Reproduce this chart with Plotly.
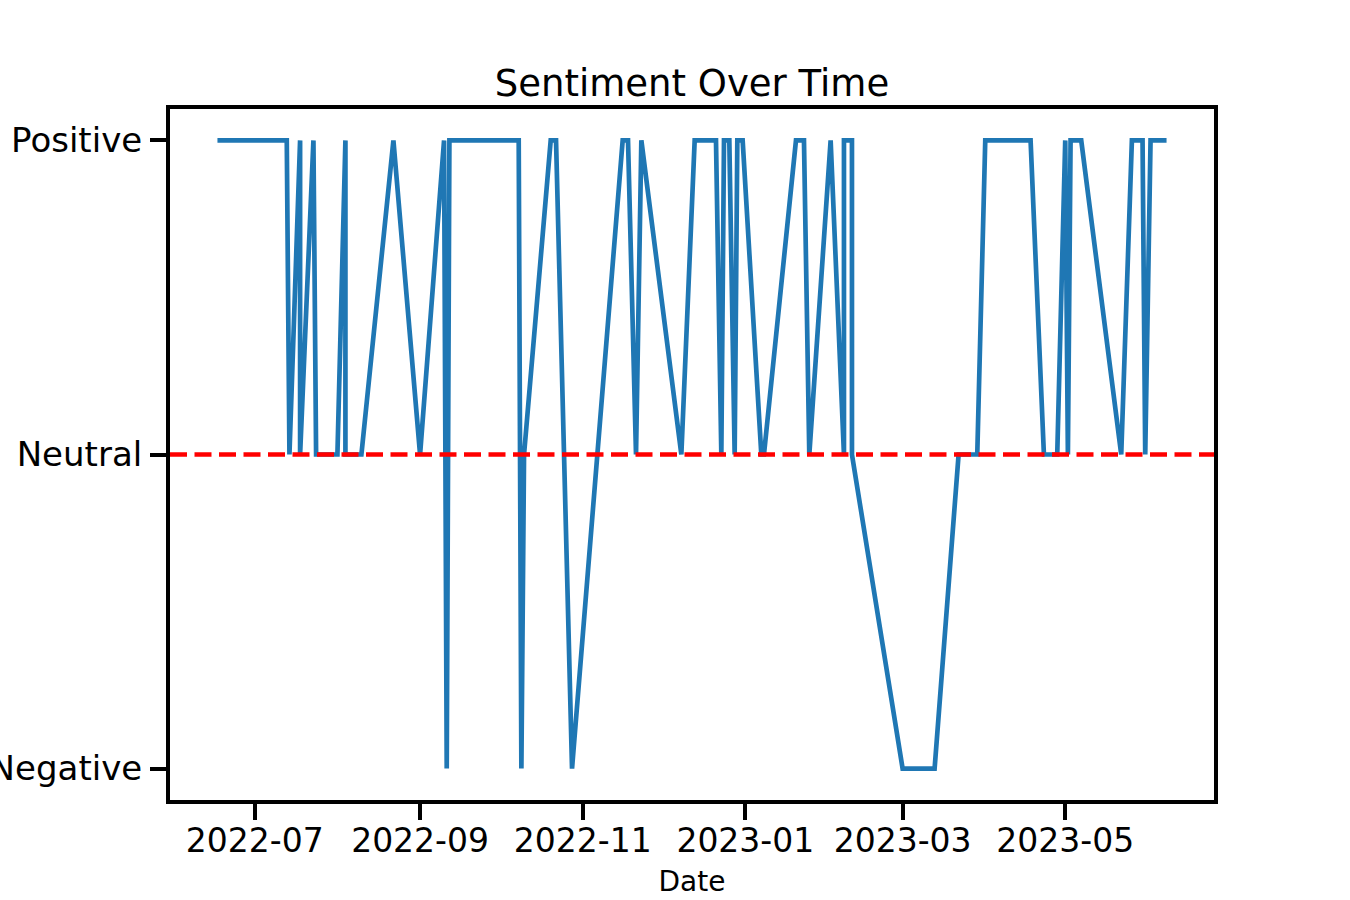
import pandas as pd
import plotly.graph_objects as go

# Sentiment readings (one row per change point)
dates = [
    '2022-06-17', '2022-07-13', '2022-07-14', '2022-07-18', '2022-07-18',
    '2022-07-23', '2022-07-24', '2022-08-01', '2022-08-04', '2022-08-04',
    '2022-08-10', '2022-08-22', '2022-09-01', '2022-09-10', '2022-09-11',
    '2022-09-12', '2022-10-08', '2022-10-09', '2022-10-10', '2022-10-20',
    '2022-10-22', '2022-10-28', '2022-11-16', '2022-11-18', '2022-11-21',
    '2022-11-23', '2022-12-08', '2022-12-13', '2022-12-21', '2022-12-23',
    '2022-12-24', '2022-12-26', '2022-12-28', '2022-12-29', '2022-12-31',
    '2023-01-07', '2023-01-08', '2023-01-20', '2023-01-23', '2023-01-25',
    '2023-02-02', '2023-02-07', '2023-02-07', '2023-02-10', '2023-02-10',
    '2023-03-01', '2023-03-13', '2023-03-22', '2023-03-29', '2023-04-01',
    '2023-04-18', '2023-04-23', '2023-04-28', '2023-05-01', '2023-05-02',
    '2023-05-03', '2023-05-07', '2023-05-22', '2023-05-26', '2023-05-30',
    '2023-05-31', '2023-06-02', '2023-06-08',
]
sentiment = [
    'Positive', 'Positive', 'Neutral', 'Positive', 'Neutral',
    'Positive', 'Neutral', 'Neutral', 'Positive', 'Neutral',
    'Neutral', 'Positive', 'Neutral', 'Positive', 'Negative',
    'Positive', 'Positive', 'Negative', 'Neutral', 'Positive',
    'Positive', 'Negative', 'Positive', 'Positive', 'Neutral',
    'Positive', 'Neutral', 'Positive', 'Positive', 'Neutral',
    'Positive', 'Positive', 'Neutral', 'Positive', 'Positive',
    'Neutral', 'Neutral', 'Positive', 'Positive', 'Neutral',
    'Positive', 'Neutral', 'Positive', 'Positive', 'Neutral',
    'Negative', 'Negative', 'Neutral', 'Neutral', 'Positive',
    'Positive', 'Neutral', 'Neutral', 'Positive', 'Neutral',
    'Positive', 'Positive', 'Neutral', 'Positive', 'Positive',
    'Neutral', 'Positive', 'Positive',
]
levels = ['Negative', 'Neutral', 'Positive']

df = pd.DataFrame({'Date': pd.to_datetime(dates), 'Sentiment': sentiment})
df['Level'] = df['Sentiment'].map({s: i for i, s in enumerate(levels)})

# matplotlib style 5% padding on the date axis
span = df['Date'].max() - df['Date'].min()
xrange = [df['Date'].min() - span * 0.05, df['Date'].max() + span * 0.05]

font = 'DejaVu Sans'

fig = go.Figure()

fig.add_trace(go.Scatter(x=df['Date'],
                         y=df['Level'],
                         mode='lines',
                         line=dict(color='#1f77b4', width=4.7),
                         showlegend=False))

# Neutral reference line
fig.add_hline(y=levels.index('Neutral'),
              line=dict(color='#ff0000', width=4.5, dash='17px,7.5px'))

fig.update_layout(
    width=1350,
    height=900,
    title=dict(text='Sentiment Over Time', x=0.5, xref='paper',
               y=1 - 83 / 900, yref='container', yanchor='middle',
               font=dict(family=font, size=37, color='black')),
    xaxis=dict(
        title=dict(text='Date', font=dict(family=font, size=28, color='black'),
                   standoff=14),
        type='date',
        range=xrange,
        tick0='2022-07-01',
        dtick='M2',
        tickformat='%Y-%m',
        showgrid=False,
        zeroline=False,
        showline=True,
        mirror=True,
        linecolor='black',
        linewidth=4,
        ticks='outside',
        ticklen=16,
        tickwidth=4,
        tickcolor='black',
        ticklabelstandoff=-8,
        tickfont=dict(family=font, size=33, color='black'),
        automargin=False,
    ),
    yaxis=dict(
        range=[-0.1, 2.1],
        tickvals=list(range(len(levels))),
        ticktext=levels,
        showgrid=False,
        zeroline=False,
        showline=True,
        mirror=True,
        linecolor='black',
        linewidth=4,
        ticks='outside',
        ticklen=16,
        tickwidth=4,
        tickcolor='black',
        ticklabelstandoff=1,
        tickfont=dict(family=font, size=34, color='black'),
        automargin=False,
    ),
    margin=dict(l=170, r=136, t=109, b=100),
    paper_bgcolor='white',
    plot_bgcolor='white',
)

# drop the browser's default body margin so the figure fills the window
fig.write_html('out.html', config={'displayModeBar': False},
               post_script="document.body.style.margin = '0';")
